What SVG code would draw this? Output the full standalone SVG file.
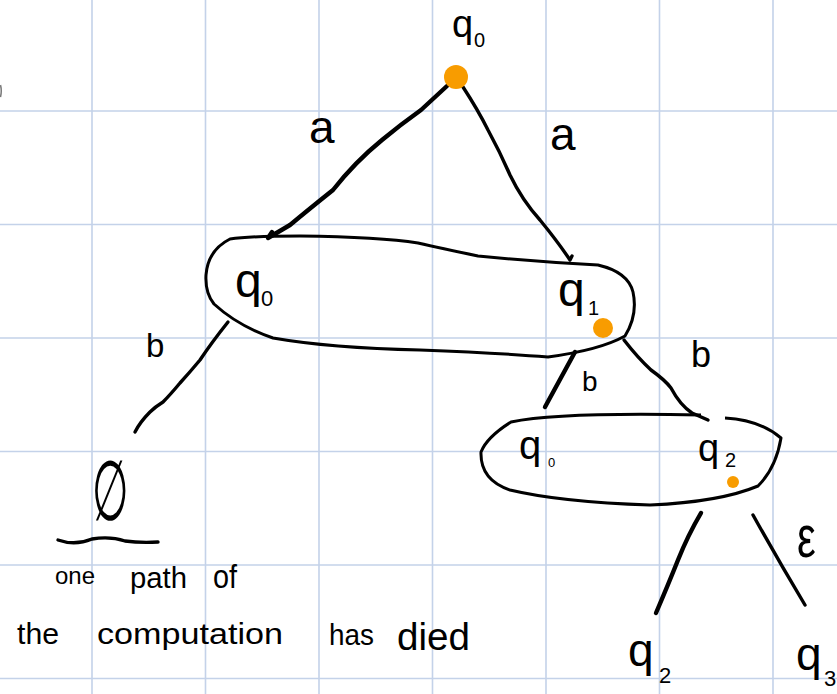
<svg xmlns="http://www.w3.org/2000/svg" width="837" height="694" viewBox="0 0 837 694">
<style>
.grid{stroke:#c4d2e9;stroke-width:1.6;fill:none}
.ink{stroke:#000;stroke-width:3.4;fill:none;stroke-linecap:round;stroke-linejoin:round}
.thick{stroke-width:4.4}
.oval{stroke:#000;stroke-width:3;fill:none;stroke-linejoin:round}
.t{font-family:"Liberation Sans","DejaVu Sans",sans-serif;fill:#000}
.dot{fill:#f89c00}
</style>
<rect width="837" height="694" fill="#fff"/>
<g id="grid" class="grid">
<path d="M92 0V694M205.5 0V694M319 0V694M432.5 0V694M546 0V694M659.5 0V694M773 0V694"/>
<path d="M0 111H837M0 224.5H837M0 338H837M0 451.5H837M0 565H837M0 678.5H837"/>
</g>
<path d="M0.5 85 Q2 91 0.5 97" stroke="#777" stroke-width="1.5" fill="none"/>
<g id="connectors">
<path class="ink thick" d="M447 86 L421 110 Q400 125 382 140 Q355 162 333 190 Q308 210 290 225 L268 238 L272 232"/>
<path class="ink" d="M463 87 Q478 110 488 130 Q500 152 510 175 Q522 200 540 220 Q558 242 570 260 L572 256"/>
<path class="ink" d="M228 322 Q212 342 200 360 Q190 372 180 383 Q170 395 163 402 Q155 407 150 412 Q140 422 135 432"/>
<path class="ink thick" d="M575 352 L545 407"/>
<path class="ink" d="M624 340 Q638 358 651 370 Q665 380 671 388 Q680 405 692 413 L708 420"/>
<path class="ink thick" d="M701 513 Q688 535 678 560 Q668 585 656 613"/>
<path class="ink" d="M753 515 Q778 560 805 605"/>
</g>
<g id="n-q0-top">
<text class="t" x="452" y="37" font-size="38">q</text>
<text class="t" x="474" y="47" font-size="20">0</text>
<circle class="dot" cx="456" cy="77" r="12"/>
</g>
<g id="n-set1">
<path class="oval" d="M230 239 Q208 250 206 275 Q205 293 214 304 Q238 326 273 338 Q330 348 420 350 Q500 353 548 357 Q600 350 625 336 Q638 315 633 292 Q628 272 598 265 Q540 262 478 256 Q440 248 418 243 Q380 237 300 236 Q250 236 230 239 Z"/>
<text class="t" x="235" y="297" font-size="48">q</text>
<text class="t" x="261" y="306" font-size="22">0</text>
<text class="t" x="558" y="306" font-size="48">q</text>
<text class="t" x="588" y="315" font-size="20">1</text>
<circle class="dot" cx="603" cy="328" r="10"/>
</g>
<g id="n-set2">
<path class="oval" d="M725 418 Q760 420 781 438 Q776 468 758 486 Q720 502 650 505 Q560 502 510 490 Q480 480 481 452 Q487 437 511 422 Q560 412 701 415"/>
<text class="t" x="519" y="459" font-size="40">q</text>
<text class="t" x="548" y="467" font-size="13">0</text>
<text class="t" x="698" y="461" font-size="38">q</text>
<text class="t" x="725" y="467" font-size="20">2</text>
<circle class="dot" cx="733" cy="482" r="6"/>
</g>
<g id="n-empty">
<text class="t" transform="translate(92 520) scale(0.75 1.5)" font-size="56">∅</text>
<path class="ink" stroke-width="3" d="M58 540 Q75 546 92 539 Q110 536 125 541 Q140 543 158 542"/>
</g>
<g id="n-q2-bottom">
<text class="t" x="628" y="666" font-size="46">q</text>
<text class="t" x="659" y="683" font-size="22">2</text>
</g>
<g id="n-q3-bottom">
<text class="t" x="796" y="670" font-size="46">q</text>
<text class="t" x="824" y="686" font-size="22">3</text>
</g>
<g id="labels">
<text class="t" x="309" y="143" font-size="46">a</text>
<text class="t" x="550" y="150" font-size="46">a</text>
<text class="t" x="146" y="357" font-size="33">b</text>
<text class="t" x="582" y="391" font-size="28">b</text>
<text class="t" x="691" y="367" font-size="36">b</text>
<text class="t" transform="translate(797 557) scale(1 1.4)" font-size="42">ε</text>
</g>
<g id="note">
<text class="t" x="55" y="584" font-size="24" textLength="40" lengthAdjust="spacingAndGlyphs">one</text>
<text class="t" x="130" y="588" font-size="30" textLength="57" lengthAdjust="spacingAndGlyphs">path</text>
<text class="t" x="213" y="588" font-size="34" textLength="24" lengthAdjust="spacingAndGlyphs">of</text>
<text class="t" x="17" y="644" font-size="30" textLength="42" lengthAdjust="spacingAndGlyphs">the</text>
<text class="t" x="97" y="644" font-size="30" textLength="186" lengthAdjust="spacingAndGlyphs">computation</text>
<text class="t" x="329" y="645" font-size="30" textLength="45" lengthAdjust="spacingAndGlyphs">has</text>
<text class="t" x="397" y="650" font-size="38" textLength="73" lengthAdjust="spacingAndGlyphs">died</text>
</g>
</svg>
